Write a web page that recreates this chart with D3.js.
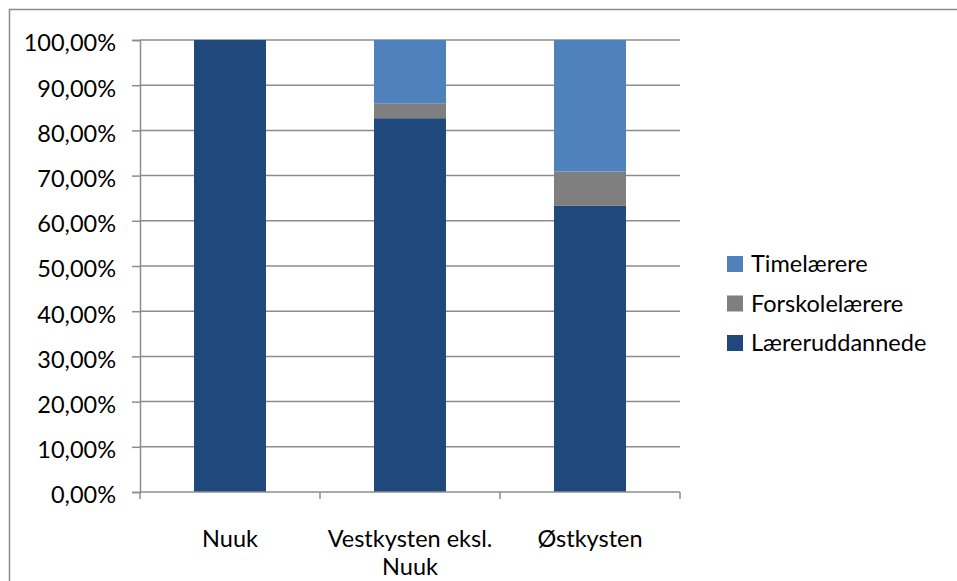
<!DOCTYPE html>
<html>
<head>
<meta charset="utf-8">
<script src="https://cdn.jsdelivr.net/npm/d3@7"></script>
<style>
  body { margin: 0; background: #fff; }
  text { font-family: Lato, "Open Sans", sans-serif; fill: #000; }
</style>
</head>
<body>
<div id="chart"></div>
<script>
// Data
var regions = ["Nuuk", "Vestkysten eksl. Nuuk", "Østkysten"];
var seriesNames = ["Læreruddannede", "Forskolelærere", "Timelærere"];
var laereruddannede = [100, 82.7, 63.3];
var forskolelaerere = [0, 3.3, 7.6];
var timelaerere = [0, 14.0, 29.1];
var yTicks = [0, 10, 20, 30, 40, 50, 60, 70, 80, 90, 100];
var colors = ["#1f497d", "#7f7f7f", "#4f81bd"];

var width = 957, height = 581;
var margin = {top: 40, right: 277, bottom: 89, left: 140};
var plotW = width - margin.left - margin.right;
var plotH = height - margin.top - margin.bottom;
var fontSize = "23.5px";

var rows = regions.map(function(r, i) {
  return {region: r, "Læreruddannede": laereruddannede[i],
          "Forskolelærere": forskolelaerere[i], "Timelærere": timelaerere[i]};
});
var stacked = d3.stack().keys(seriesNames)(rows);

var svg = d3.select("#chart").append("svg")
  .attr("width", width)
  .attr("height", height);

// outer chart border (only left/top visible in frame)
svg.append("rect")
  .attr("x", 9.5).attr("y", 9.5)
  .attr("width", 960).attr("height", 600)
  .attr("fill", "none").attr("stroke", "#8a8a8a").attr("stroke-width", 1.5);

var g = svg.append("g")
  .attr("transform", "translate(" + margin.left + "," + margin.top + ")");

var x = d3.scaleBand().domain(regions).range([0, plotW]).paddingInner(0.6).paddingOuter(0.3);
var xOuter = d3.scaleBand().domain(regions).range([0, plotW]);
var y = d3.scaleLinear().domain([0, 100]).range([plotH, 0]);

// gridlines
g.selectAll(".grid").data(yTicks.slice(1)).enter().append("line")
  .attr("x1", 0).attr("x2", plotW)
  .attr("y1", function(d) { return y(d); })
  .attr("y2", function(d) { return y(d); })
  .attr("stroke", "#8c8c8c").attr("stroke-width", 1.5);

// bars
g.selectAll(".layer").data(stacked).enter().append("g")
  .attr("fill", function(d, i) { return colors[i]; })
  .selectAll("rect").data(function(d) { return d; }).enter().append("rect")
  .attr("x", function(d) { return x(d.data.region); })
  .attr("width", x.bandwidth())
  .attr("y", function(d) { return y(d[1]); })
  .attr("height", function(d) { return y(d[0]) - y(d[1]); });

// y axis
var yAxis = g.append("g")
  .call(d3.axisLeft(y).tickValues(yTicks).tickSize(8).tickPadding(16)
    .tickFormat(function(d) { return d3.format(".2f")(d).replace(".", ",") + "%"; }));
yAxis.select(".domain").attr("stroke", "#8c8c8c").attr("stroke-width", 1.5);
yAxis.selectAll(".tick line").attr("stroke", "#8c8c8c").attr("stroke-width", 1.5);
yAxis.selectAll(".tick text").attr("font-size", fontSize).attr("font-family", "Lato, sans-serif")
  .attr("fill", "#000").attr("dy", "0.46em");

// x axis
var xAxis = g.append("g").attr("transform", "translate(0," + plotH + ")");
xAxis.append("line").attr("x1", 0).attr("x2", plotW)
  .attr("stroke", "#8c8c8c").attr("stroke-width", 1.5);
var bounds = regions.map(function(r) { return xOuter(r); }).concat([plotW]);
xAxis.selectAll(".xtick").data(bounds).enter().append("line")
  .attr("x1", function(d) { return d; }).attr("x2", function(d) { return d; })
  .attr("y1", 0).attr("y2", 7)
  .attr("stroke", "#8c8c8c").attr("stroke-width", 1.5);

var labelLines = [["Nuuk"], ["Vestkysten eksl.", "Nuuk"], ["Østkysten"]];
regions.forEach(function(r, i) {
  var t = xAxis.append("text")
    .attr("x", xOuter(r) + xOuter.bandwidth() / 2)
    .attr("y", 55)
    .attr("text-anchor", "middle")
    .attr("font-size", fontSize);
  labelLines[i].forEach(function(line, j) {
    t.append("tspan")
      .attr("x", xOuter(r) + xOuter.bandwidth() / 2)
      .attr("dy", j === 0 ? 0 : 28)
      .text(line);
  });
});

// legend (reverse order like the reference)
var legend = svg.append("g").attr("transform", "translate(727,256)");
var legItems = seriesNames.slice().reverse();
legItems.forEach(function(name, i) {
  var row = legend.append("g").attr("transform", "translate(0," + (i * 39.5) + ")");
  row.append("rect")
    .attr("width", 16).attr("height", 16)
    .attr("fill", colors[seriesNames.indexOf(name)]);
  row.append("text")
    .attr("x", 24).attr("y", 16)
    .attr("font-size", fontSize)
    .text(name);
});
</script>
</body>
</html>
